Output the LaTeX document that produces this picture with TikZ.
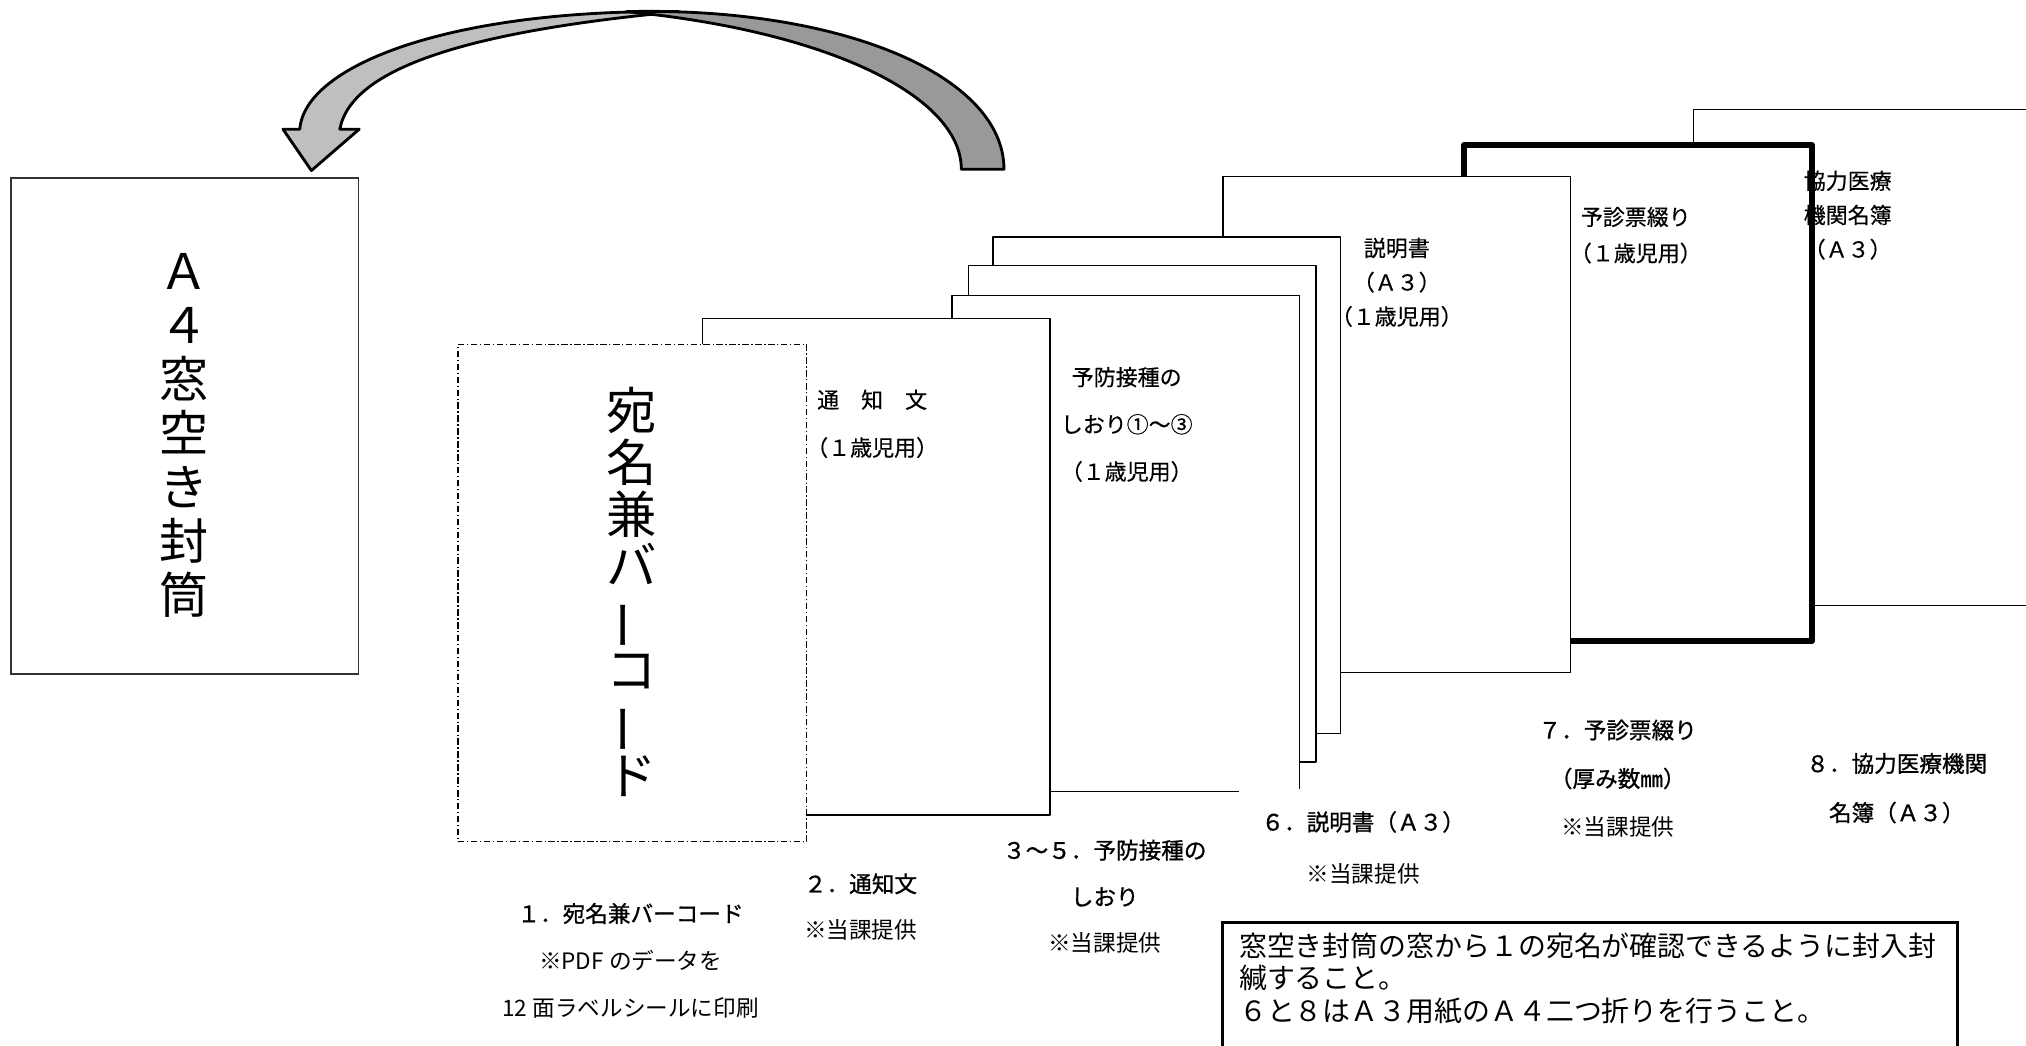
\documentclass[tikz,border=0pt]{standalone}
\usepackage{graphicx}
\usepackage{fontspec}
\usepackage{tikz}
\setmainfont{Noto Sans CJK JP}
\newfontfamily\jpbold{Noto Sans CJK JP}[FakeBold=1]
\newfontfamily\jpmed{Noto Sans CJK JP}[FakeBold=0.4]

\tikzset{
  paper/.style={draw, fill=white, line width=1.2pt, minimum width=269pt, minimum height=384pt, anchor=north west},
  papertext/.style={align=center, font=\jpmed\fontsize{17}{#1}\selectfont},
  itemtext/.style={align=center, font=\fontsize{17.5}{#1}\selectfont},
}
\newcommand{\vbar}{\rotatebox[origin=c]{90}{ー}}

\begin{document}
\begin{tikzpicture}[x=1pt, y=-1pt, every node/.style={inner sep=0pt}]
  \useasboundingbox (0,0) rectangle (1568,809.5);
  \clip (0,0) rectangle (1568,809.5);

  % envelope
  \node[paper, draw=black!80] (env) at (8,137) {};
  \node[font=\fontsize{38}{41.7}\selectfont, align=center] (envtext) at (142.5,337) {Ａ\\４\\窓\\空\\き\\封\\筒};

  % curved arrow, light half with head, then dark half
  \draw[line width=2.2pt, fill=black!25, line join=round]
    (525,9) .. controls (350,7) and (236,50) .. (232,100)
    -- (219,100) -- (241,132) -- (278,100) -- (263,100)
    .. controls (272,52) and (365,24) .. (525,9) -- cycle;
  \draw[line width=2.2pt, fill=black!40, line join=round]
    (744,131) -- (777,131) .. controls (777,58) and (650,5) .. (485,9)
    .. controls (640,24) and (744,74) .. (744,131) -- cycle;

  % the sheets, back to front
  \foreach \name/\x/\y/\w in {s8/1310/84/1.2, s7/1131/110/4.5, s6/946/136/1.2, s5/768/183/1.2, s4/749/205/1.2, s3/736/228/1.2, s2/543/246/1.2} {
    \node[paper, line width=\w pt, line join=round] (\name) at (\x,\y) {};
  }
  \node[paper, line width=0.9pt, dash pattern=on 5pt off 2pt on 1pt off 2pt, minimum width=270pt, minimum height=385pt] (s1) at (354,266) {};

  % texts on the sheets
  \node[font=\fontsize{39}{40}\selectfont, align=center] (s1text) at (489,458) {宛\\名\\兼\\バ\\\vbar\\コ\\\vbar\\ド};
  \node[papertext=37] (s2text) at (675,328) {通　知　文\\（１歳児用）};
  \node[papertext=36.5] (s3text) at (872,328.5) {予防接種の\\しおり①～③\\（１歳児用）};
  \node[papertext=26.5] (s6text) at (1081,218.5) {説明書\\（Ａ３）\\（１歳児用）};
  \node[papertext=28] (s7text) at (1266,182) {予診票綴り\\（１歳児用）};
  \node[papertext=26.5] (s8text) at (1430,166.5) {協力医療\\機関名簿\\（Ａ３）};

  % labels under the sheets
  \node[itemtext=36.5] (l1) at (488,743.5) {{\jpbold １．宛名兼バーコード}\\※PDF のデータを\\12 面ラベルシールに印刷};
  \node[itemtext=36] (l2) at (666,702) {{\jpbold ２．通知文}\\※当課提供};
  \node[itemtext=36] (l3) at (855,694) {{\jpbold ３～５．予防接種の}\\{\jpbold しおり}\\※当課提供};
  \node[itemtext=40, fill=white, minimum width=192pt, minimum height=90pt] (l6) at (1055,656) {{\jpbold ６．説明書（Ａ３）}\\※当課提供};
  \node[itemtext=37.5] (l7) at (1252,602.5) {{\jpbold ７．予診票綴り}\\{\jpbold （厚み数㎜）}\\※当課提供};
  \node[itemtext=38] (l8) at (1468,610) {{\jpbold ８．協力医療機関}\\{\jpbold 名簿（Ａ３）}};

  % note box
  \node[draw, line width=2pt, anchor=north west, inner xsep=13pt, inner ysep=8pt, font=\fontsize{21.6}{25}\selectfont] (note) at (945,713)
    {\parbox[t][110pt][t]{543pt}{\raggedright 窓空き封筒の窓から１の宛名が確認できるように封入封\\緘すること。\\６と８はＡ３用紙のＡ４二つ折りを行うこと。}};
\end{tikzpicture}
\end{document}
